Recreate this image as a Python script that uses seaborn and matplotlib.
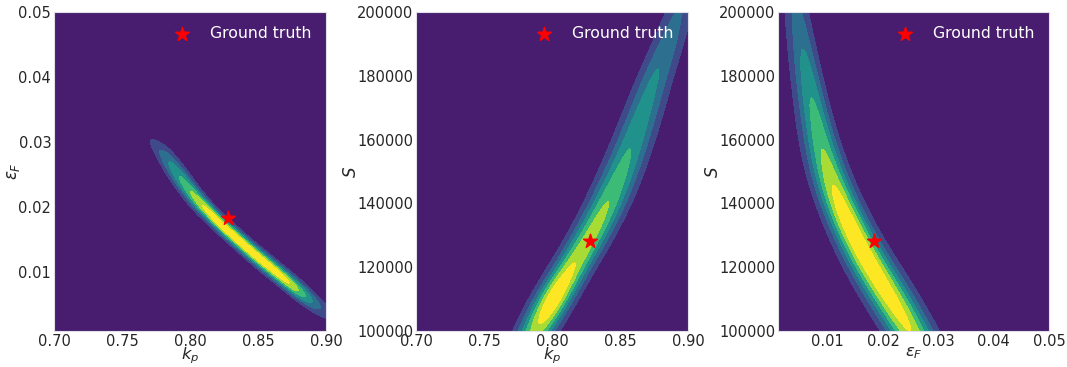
import numpy as np
import pandas as pd
import matplotlib
matplotlib.use("Agg")
import matplotlib.pyplot as plt
from matplotlib.ticker import FormatStrFormatter
import seaborn as sns
from seaborn._statistics import KDE

sns.set_theme(style="white")
plt.rcParams['font.family'] = ['DejaVu Sans']
plt.rcParams['mathtext.fontset'] = 'dejavusans'

# ---------------- data ----------------
BAND_COLORS = ["#481c6e", "#3f4a8a", "#2d6f8e", "#21918c", "#3bbb75", "#a8db34", "#fde725"]

TRUE_KP = 0.828
TRUE_EPS = 0.0183
TRUE_S = 128300

# Panel 1: ridge in (k_p, eps_F): centre line, vertical spread, relative height
P1_KP = [0.775, 0.785, 0.795, 0.805, 0.815, 0.825, 0.835, 0.845, 0.855, 0.865, 0.875, 0.885, 0.895, 0.905]
P1_EPS = [0.0293, 0.0268, 0.0240, 0.0212, 0.0190, 0.0169, 0.0151, 0.0132, 0.0115, 0.0098, 0.0081, 0.0065, 0.0049, 0.0034]
P1_SIG = [0.0010, 0.0015, 0.0014, 0.0012, 0.0010, 0.00095, 0.00095, 0.00095, 0.00095, 0.00095, 0.00098, 0.00105, 0.0011, 0.0011]
P1_AMP = [0.22, 0.47, 0.66, 0.82, 0.93, 0.98, 1.0, 1.0, 0.99, 0.96, 0.88, 0.57, 0.27, 0.15]

# Panel 2: ridge in (k_p, S)
P2_S = [90000, 100000, 110000, 120000, 130000, 140000, 150000, 160000, 170000, 180000, 190000, 200000, 210000]
P2_KP = [0.776, 0.788, 0.801, 0.815, 0.829, 0.841, 0.851, 0.860, 0.868, 0.876, 0.885, 0.893, 0.901]
P2_SIG = [0.0092, 0.0092, 0.0090, 0.0092, 0.0095, 0.0098, 0.0098, 0.0095, 0.0090, 0.0085, 0.0080, 0.0075, 0.0070]
P2_AMP = [0.45, 0.70, 1.0, 0.76, 0.71, 0.64, 0.55, 0.49, 0.45, 0.40, 0.34, 0.27, 0.20]

# Panel 3: ridge in (eps_F, S)
P3_S = [90000, 100000, 110000, 120000, 130000, 140000, 150000, 160000, 170000, 180000, 190000, 200000, 210000]
P3_EPS = [0.0283, 0.0250, 0.0215, 0.0179, 0.0147, 0.0121, 0.0100, 0.0085, 0.0073, 0.0063, 0.0054, 0.0046, 0.0039]
P3_SIG = [0.0026, 0.0026, 0.0026, 0.0025, 0.0023, 0.0022, 0.0021, 0.0018, 0.0015, 0.0013, 0.0011, 0.00095, 0.0009]
P3_AMP = [0.75, 0.86, 0.97, 1.0, 0.98, 0.93, 0.75, 0.72, 0.69, 0.65, 0.58, 0.50, 0.42]

# cross-section lattice used to turn each ridge description into KDE input
K = np.linspace(-3, 3, 25)
G = np.exp(-0.5 * K ** 2)
N_BANDS = len(BAND_COLORS)
GRIDSIZE = 250


def ridge_table(main, center, sig, amp, offset_on):
    rows = []
    for m, c, s, a in zip(main, center, sig, amp):
        for k, g in zip(K, G):
            off = c + k * s
            if offset_on == "y":
                rows.append((m, off, a * s * g))
            else:
                rows.append((off, m, a * s * g))
    return pd.DataFrame(rows, columns=["px", "py", "pw"])


def linear_isoprops(df, bw):
    """Iso-proportion values that correspond to equally spaced density levels."""
    kde = KDE(bw_method=bw, bw_adjust=1, gridsize=GRIDSIZE, cut=3, clip=None, cumulative=False)
    dens, _ = kde(df["px"].to_numpy(), df["py"].to_numpy(), df["pw"].to_numpy())
    d = np.ravel(dens)
    tot = d.sum()
    props = [0.0]
    for k in range(1, N_BANDS):
        t = d.max() * k / N_BANDS
        props.append(1.0 - d[d >= t].sum() / tot)
    props.append(1.0)
    return props


fig = plt.figure(figsize=(10.67, 3.67), dpi=100)
W = 272 / 1067
H = 319 / 367
B = (367 - 331) / 367
ax1 = fig.add_axes([54 / 1067, B, W, H])
ax2 = fig.add_axes([416 / 1067, B, W, H])
ax3 = fig.add_axes([778 / 1067, B, 271 / 1067, H])

panels = [
    (ax1, ridge_table(P1_KP, P1_EPS, P1_SIG, P1_AMP, "y"), 0.2, (0.7, 0.9), (0.001, 0.05),
     (TRUE_KP, TRUE_EPS), r"$k_p$", r"$\varepsilon_F$"),
    (ax2, ridge_table(P2_S, P2_KP, P2_SIG, P2_AMP, "x"), 0.2, (0.7, 0.9), (100000, 200000),
     (TRUE_KP, TRUE_S), r"$k_p$", r"$S$"),
    (ax3, ridge_table(P3_S, P3_EPS, P3_SIG, P3_AMP, "x"), 0.25, (0.001, 0.05), (100000, 200000),
     (TRUE_EPS, TRUE_S), r"$\varepsilon_F$", r"$S$"),
]

for ax, df, bw, xl, yl, truth, xlab, ylab in panels:
    ax.set_facecolor(BAND_COLORS[0])
    sns.kdeplot(data=df, x="px", y="py", weights="pw",
                fill=True, thresh=0, levels=linear_isoprops(df, bw),
                color=BAND_COLORS[3], colors=BAND_COLORS,
                bw_method=bw, gridsize=GRIDSIZE, ax=ax)
    ax.scatter([truth[0]], [truth[1]], marker="*", s=110, color="red", label="Ground truth", zorder=5)
    ax.set_xlim(*xl)
    ax.set_ylim(*yl)
    ax.set_xlabel(xlab, fontsize=11.8, labelpad=-2.2)
    ax.set_ylabel(ylab, fontsize=12, labelpad=-2.5)
    ax.tick_params(length=0, pad=2, labelsize=10.5, colors="#262626")
    for sp in ax.spines.values():
        sp.set_color("#e0e0e8")
        sp.set_linewidth(0.8)
    ax.legend(loc="upper right", frameon=False, fontsize=11.3, labelcolor="white")

ax1.set_xticks([0.70, 0.75, 0.80, 0.85, 0.90])
ax1.set_yticks([0.01, 0.02, 0.03, 0.04, 0.05])
ax1.xaxis.set_major_formatter(FormatStrFormatter("%.2f"))
ax1.yaxis.set_major_formatter(FormatStrFormatter("%.2f"))
ax2.set_xticks([0.70, 0.75, 0.80, 0.85, 0.90])
ax2.xaxis.set_major_formatter(FormatStrFormatter("%.2f"))
ax2.set_yticks([100000, 120000, 140000, 160000, 180000, 200000])
ax2.yaxis.set_major_formatter(FormatStrFormatter("%d"))
ax3.set_xticks([0.01, 0.02, 0.03, 0.04, 0.05])
ax3.xaxis.set_major_formatter(FormatStrFormatter("%.2f"))
ax3.set_yticks([100000, 120000, 140000, 160000, 180000, 200000])
ax3.yaxis.set_major_formatter(FormatStrFormatter("%d"))

fig.savefig("out.png", dpi=100)
